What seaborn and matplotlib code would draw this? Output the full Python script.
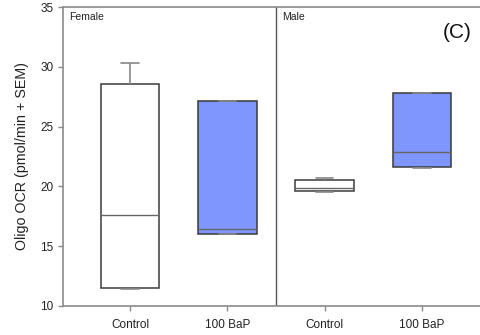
import numpy as np
import pandas as pd
import matplotlib
matplotlib.use("Agg")
import matplotlib.pyplot as plt
import seaborn as sns

# Five-number summaries (lower whisker, Q1, median, Q3, upper whisker) per group
sexes = ["Female", "Male"]
treatments = ["Control", "100 BaP"]
female_control = [11.4, 11.5, 17.6, 28.6, 30.3]
female_bap = [16.0, 16.0, 16.4, 27.1, 27.1]
male_control = [19.55, 19.65, 19.9, 20.55, 20.7]
male_bap = [21.5, 21.6, 22.9, 27.8, 27.8]

values = {
    ("Female", "Control"): female_control,
    ("Female", "100 BaP"): female_bap,
    ("Male", "Control"): male_control,
    ("Male", "100 BaP"): male_bap,
}

rows = []
for s in sexes:
    for t in treatments:
        for v in values[(s, t)]:
            rows.append({"sex": s, "treatment": t, "slot": f"{s} {t}", "value": v})
df = pd.DataFrame(rows)
order = [f"{s} {t}" for s in sexes for t in treatments]

sns.set_style("ticks")
plt.rcParams["font.family"] = ["Liberation Sans", "DejaVu Sans"]

W, H = 481, 335
fig = plt.figure(figsize=(W / 100, H / 100), dpi=100)
ax = fig.add_axes([63 / W, (H - 306) / H, 426 / W, 299 / H])

edge = "#3a3a3a"
sns.boxplot(
    data=df, x="slot", y="value", hue="treatment", order=order,
    hue_order=treatments, palette={"Control": "white", "100 BaP": "#8096ff"},
    saturation=1, dodge=False, width=0.6, whis=(0, 100), linewidth=1.1,
    linecolor=edge,
    medianprops={"color": "#666666", "linewidth": 1.0},
    whiskerprops={"color": "#888888", "linewidth": 1.2},
    capprops={"color": "#888888", "linewidth": 1.2},
    showfliers=False, legend=False, ax=ax,
)

# narrower whisker caps
for cont in ax.containers:
    for cap in getattr(cont, "caps", []):
        xd = np.asarray(cap.get_xdata(), dtype=float)
        c = xd.mean()
        cap.set_xdata([c - 0.09, c + 0.09])

ax.axvline(1.5, color="#555555", lw=1.0)

ax.set_xlim(-0.69, 3.69)
ax.set_ylim(10, 35)
ax.set_yticks([10, 15, 20, 25, 30, 35])
ax.set_xticks(range(4))
ax.set_xticklabels(["Control", "100 BaP", "Control", "100 BaP"])
ax.set_xlabel("")
ax.set_ylabel("Oligo OCR (pmol/min + SEM)", fontsize=10.3, color="#222222", labelpad=8)

for side in ["left", "bottom", "top", "right"]:
    ax.spines[side].set_color("#8a8a8a")
    ax.spines[side].set_linewidth(1.2)
ax.tick_params(axis="both", colors="#8a8a8a", labelcolor="#222222", labelsize=8.5,
               length=3.5, width=1.0, direction="out")
ax.tick_params(axis="x", pad=6)

ax.text(-0.63, 34.6, "Female", fontsize=7.5, color="#222222", va="top", ha="left")
ax.text(1.56, 34.6, "Male", fontsize=7.5, color="#222222", va="top", ha="left")
fig.text(472 / W, 1 - 33 / H, "(C)", fontsize=15, color="#111111", ha="right", va="center")

fig.savefig("out.png", dpi=100)
